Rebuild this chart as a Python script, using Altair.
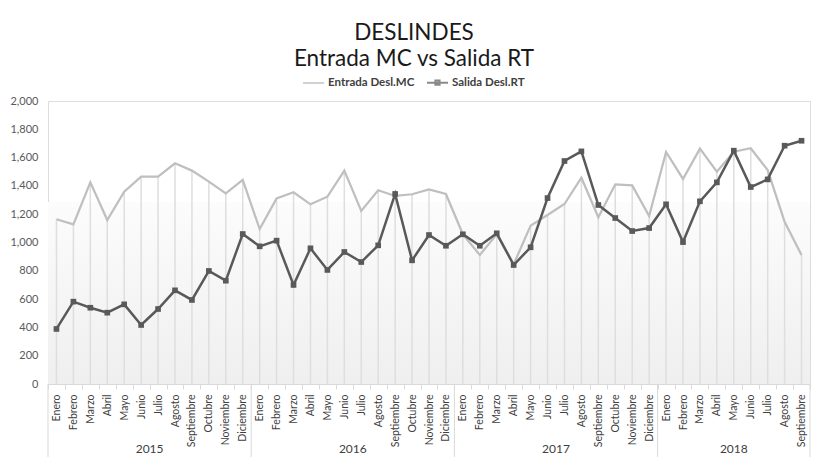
import altair as alt
import pandas as pd

# ---- data ----
months = ["Enero", "Febrero", "Marzo", "Abril", "Mayo", "Junio", "Julio",
          "Agosto", "Septiembre", "Octubre", "Noviembre", "Diciembre"]
years = ["2015", "2016", "2017", "2018"]
months_per_year = [12, 12, 12, 9]
series_names = ["Entrada Desl.MC", "Salida Desl.RT"]

entrada = [1164, 1128, 1425, 1159, 1359, 1465, 1465, 1560, 1508, 1430, 1347, 1442,
           1095, 1312, 1355, 1270, 1324, 1508, 1223, 1369, 1329, 1341, 1376, 1343,
           1058, 912, 1058, 846, 1119, 1194, 1272, 1458, 1178, 1411, 1404, 1187,
           1640, 1449, 1663, 1500, 1642, 1666, 1512, 1147, 912]
salida = [389, 582, 539, 504, 563, 417, 530, 662, 594, 799, 730, 1060,
          973, 1013, 700, 959, 806, 933, 862, 980, 1343, 874, 1053, 977,
          1058, 977, 1065, 841, 966, 1314, 1576, 1644, 1265, 1173, 1081, 1102,
          1270, 1003, 1291, 1425, 1649, 1392, 1446, 1684, 1719]
y_ticks = list(range(0, 2001, 200))

# ---- tables ----
rows = []
for i, (e, s) in enumerate(zip(entrada, salida)):
    rows.append({"idx": i, "Entrada": e, "Salida": s})
df = pd.DataFrame(rows)

long_rows = []
for i, (e, s) in enumerate(zip(entrada, salida)):
    long_rows.append({"idx": i, "serie": series_names[0], "valor": e})
    long_rows.append({"idx": i, "serie": series_names[1], "valor": s})
df_long = pd.DataFrame(long_rows)

bounds = [0]
for n in months_per_year:
    bounds.append(bounds[-1] + n)
df_bounds = pd.DataFrame({"b": bounds})
df_years = pd.DataFrame({
    "year": years,
    "center": [(bounds[k] + bounds[k + 1]) / 2 for k in range(len(years))],
})

W, H = 762, 283
FONT = "Lato"

month_expr = "[" + ",".join("'%s'" % m for m in months) + "][datum.value % 12]"

x_enc = alt.X(
    "idx:O",
    scale=alt.Scale(type="band", paddingInner=0, paddingOuter=0),
    axis=alt.Axis(
        title=None, labelExpr=month_expr, labelAngle=-90, labelAlign="right",
        labelBaseline="middle", labelPadding=5, labelFont=FONT, labelFontSize=10.5,
        labelColor="#404040", tickBand="extent", tickSize=5, tickColor="#d9d9d9",
        domainColor="#d9d9d9", domainWidth=1, grid=False, labelOverlap=False,
    ),
)
y_scale = alt.Scale(domain=[0, 2000], nice=False)
y_axis = alt.Axis(
    title=None, values=y_ticks, format=",d", ticks=False, domain=False, grid=False,
    labelFont=FONT, labelFontSize=11, labelColor="#595959", labelPadding=10,
)

bg = alt.Chart(pd.DataFrame({"a": [0]})).mark_rect(
    fill=alt.Gradient(
        gradient="linear",
        stops=[alt.GradientStop(color="#fcfcfc", offset=0),
               alt.GradientStop(color="#efefef", offset=1)],
        x1=0, x2=0, y1=0, y2=1,
    )
).encode(x=alt.value(0), x2=alt.value(W), y=alt.value(101), y2=alt.value(H))

drops = alt.Chart(df).mark_rule(color="#dedede", strokeWidth=1.5).encode(
    x=x_enc,
    y=alt.Y("Entrada:Q", scale=y_scale, axis=y_axis),
    y2=alt.value(H),
)

line_e = alt.Chart(df).mark_line(color="#bfbfbf", strokeWidth=2.25).encode(
    x=x_enc, y=alt.Y("Entrada:Q", scale=y_scale, axis=y_axis)
)
line_s = alt.Chart(df).mark_line(color="#595959", strokeWidth=2.5).encode(
    x=x_enc, y=alt.Y("Salida:Q", scale=y_scale, axis=y_axis)
)
pts_s = alt.Chart(df).mark_point(shape="square", filled=True, size=32,
                                 color="#595959", opacity=1).encode(
    x=x_enc, y=alt.Y("Salida:Q", scale=y_scale, axis=y_axis)
)

leg = alt.Legend(
    title=None, orient="none", legendX=254, legendY=-30, direction="horizontal",
    labelFont=FONT, labelFontSize=11.5, labelFontWeight="bold",
    labelColor="#404040", symbolSize=441, symbolStrokeWidth=2,
    labelOffset=3, columnPadding=8,
)
legend_layer = alt.Chart(df_long).mark_point(filled=False, strokeWidth=2).encode(
    color=alt.Color(
        "serie:N",
        scale=alt.Scale(domain=series_names, range=["#bfbfbf", "#595959"]),
        legend=leg,
    ),
    shape=alt.Shape(
        "serie:N",
        scale=alt.Scale(domain=series_names,
                        range=["M-1,0H1", "M-1,0H1M-0.2,-0.2H0.2V0.2H-0.2Z"]),
        legend=leg,
    ),
).transform_filter("false")

main = alt.layer(bg, drops, line_e, line_s, pts_s, legend_layer)

x_year = alt.X("b:Q", scale=alt.Scale(domain=[0, bounds[-1]], nice=False, zero=False),
               axis=None)
year_rules = alt.Chart(df_bounds).mark_rule(color="#d9d9d9", strokeWidth=1).encode(
    x=x_year, y=alt.value(H), y2=alt.value(H + 73)
)
year_text = alt.Chart(df_years).mark_text(
    font=FONT, fontSize=12, color="#404040", baseline="middle"
).encode(
    x=alt.X("center:Q", scale=alt.Scale(domain=[0, bounds[-1]], nice=False, zero=False),
            axis=None),
    y=alt.value(H + 65),
    text="year:N",
)
years_layer = alt.layer(year_rules, year_text)

chart = alt.layer(main, years_layer).resolve_scale(x="independent").properties(
    width=W, height=H,
    autosize=alt.AutoSizeParams(type="none"),
    padding={"left": 40, "top": 93, "right": 2, "bottom": 73},
    title=alt.TitleParams(
        text=["DESLINDES", "Entrada MC vs Salida RT"], anchor="middle", dx=-15,
        font=FONT, fontSize=22.5, fontWeight="normal", color="#1a1a1a", lineHeight=26,
        offset=1,
    ),
).configure_view(stroke=None).configure(background="white")

chart.save("out.html", embed_options={"renderer": "svg", "actions": False})
